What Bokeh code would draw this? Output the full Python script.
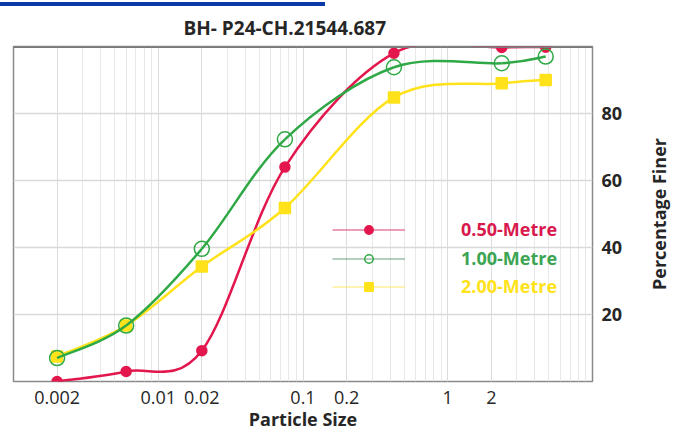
import numpy as np
from bokeh.plotting import figure
from bokeh.models import (FixedTicker, Legend, LegendItem, Span, ColumnDataSource, Div)
from bokeh.layouts import column, row
from bokeh.embed import file_html
from bokeh.resources import INLINE

# ---- data ----
particle_size = [0.002, 0.006, 0.02, 0.075, 0.425, 2.36, 4.75]
finer_050 = [0.0, 3.0, 9.2, 64.0, 98.0, 99.7, 99.8]
finer_100 = [7.0, 16.7, 39.6, 72.3, 93.8, 95.0, 97.0]
finer_200 = [7.5, 16.7, 34.3, 51.8, 84.8, 89.0, 90.0]
series_names = ["0.50-Metre", "1.00-Metre", "2.00-Metre"]
x_ticks = [0.002, 0.01, 0.02, 0.1, 0.2, 1, 2]
x_tick_labels = ["0.002", "0.01", "0.02", "0.1", "0.2", "1", "2"]
y_ticks = [20, 40, 60, 80]
title_text = "BH- P24-CH.21544.687"
y_title = "Percentage Finer"
x_title = "Particle Size"

FONT = "Open Sans"
RED = "#e3174d"
GREEN = "#2fa846"
YELLOW = "#ffe21a"
INK = "#262626"

BAR_H = 6
SIDE_W = 32
H = 433 - BAR_H

p = figure(width=675 - SIDE_W, height=H, x_axis_type="log", x_range=(0.001, 10), y_range=(0, 100),
           y_axis_location="right", output_backend="svg", toolbar_location=None,
           min_border_left=13, min_border_right=83 - SIDE_W, min_border_top=46 - BAR_H,
           min_border_bottom=51, margin=0)

p.title.text = title_text
p.title.align = "left"
p.title.offset = 170
p.title.standoff = 12
p.title.text_font = FONT
p.title.text_font_style = "bold"
p.title.text_font_size = "19px"
p.title.text_color = INK

minor = [k * 10.0 ** d for d in range(-3, 1) for k in range(1, 10)] + [10.0]
p.xaxis.ticker = FixedTicker(ticks=x_ticks, minor_ticks=minor)
p.xaxis.major_label_overrides = {t: l for t, l in zip(x_ticks, x_tick_labels)}
p.yaxis.ticker = FixedTicker(ticks=y_ticks)

for ax in (p.xaxis[0], p.yaxis[0]):
    ax.axis_line_color = None
    ax.major_tick_line_color = None
    ax.minor_tick_line_color = None
    ax.major_label_text_font = FONT
    ax.major_label_text_font_size = "18px"
    ax.major_label_text_color = INK
    ax.axis_label_text_font = FONT
    ax.axis_label_text_font_style = "bold"
    ax.axis_label_text_font_size = "18px"
    ax.axis_label_text_color = INK

p.yaxis.major_label_text_font_style = "bold"
p.xaxis.axis_label = x_title
p.xaxis.major_label_standoff = 3
p.xaxis.axis_label_standoff = 0
p.yaxis.major_label_standoff = 3

p.xgrid.grid_line_color = "#dcdcdc"
p.xgrid.minor_grid_line_color = "#e8e8e8"
p.ygrid.grid_line_color = "#d9d9d9"
p.ygrid.grid_line_width = 1.5

p.outline_line_color = "#8a8a8a"
p.outline_line_width = 1.5
p.add_layout(Span(location=100, dimension="width", line_color="#7a7a7a", line_width=3))


def smooth_segments(xs, ys):
    u = np.log10(np.asarray(xs, dtype=float))
    v = np.asarray(ys, dtype=float)
    n = len(u)
    x0, y0, x1, y1, cx0, cy0, cx1, cy1 = ([] for _ in range(8))
    for i in range(n - 1):
        im = max(i - 1, 0)
        ip = min(i + 2, n - 1)
        c0u = u[i] + (u[i + 1] - u[im]) / 6.0
        c0v = v[i] + (v[i + 1] - v[im]) / 6.0
        c1u = u[i + 1] - (u[ip] - u[i]) / 6.0
        c1v = v[i + 1] - (v[ip] - v[i]) / 6.0
        x0.append(10 ** u[i]); y0.append(v[i])
        x1.append(10 ** u[i + 1]); y1.append(v[i + 1])
        cx0.append(10 ** c0u); cy0.append(c0v)
        cx1.append(10 ** c1u); cy1.append(c1v)
    return dict(x0=x0, y0=y0, x1=x1, y1=y1, cx0=cx0, cy0=cy0, cx1=cx1, cy1=cy1)


specs = [
    (finer_050, RED, "circle", 10, RED, RED, "#d8416a", "#d8194e"),
    (finer_200, YELLOW, "square", 11, YELLOW, YELLOW, "#ffe866", "#ffe21a"),
    (finer_100, GREEN, "circle", 15, None, GREEN, "#6a9f78", "#3ba553"),
]

for vals, col, mk, sz, fill, lc, _, _ in specs:
    seg = ColumnDataSource(smooth_segments(particle_size, vals))
    p.bezier(x0="x0", y0="y0", x1="x1", y1="y1", cx0="cx0", cy0="cy0", cx1="cx1", cy1="cy1",
             source=seg, line_color=col, line_width=2.5)
    p.scatter(particle_size, vals, marker=mk, size=sz, fill_color=fill, line_color=lc,
              line_width=1.5)

# legends (one per series so each label gets its own colour); proxies hold no visible data
legend_order = [specs[0], specs[2], specs[1]]
bottoms = [140, 111, 83]
for (vals, col, mk, sz, fill, lc, leg_line, txt), name, b in zip(legend_order, series_names, bottoms):
    lr = p.line([np.nan], [np.nan], line_color=leg_line, line_width=1)
    sr = p.scatter([np.nan], [np.nan], marker=mk, size=sz, fill_color=fill, line_color=lc,
                   line_width=1.5)
    lg = Legend(items=[LegendItem(label=name, renderers=[lr, sr])], location=(319, b),
                glyph_width=73, glyph_height=21, label_height=21, label_standoff=56,
                padding=0, margin=0, border_line_color=None, background_fill_alpha=0,
                label_text_font=FONT, label_text_font_style="bold", label_text_font_size="18px",
                label_text_color=txt)
    p.add_layout(lg, "center")

# narrow side strip carrying the y-axis title (a left axis label reads bottom-to-top)
p2 = figure(width=SIDE_W, height=H, x_range=(0, 1), y_range=(0, 1),
            output_backend="svg", toolbar_location=None,
            min_border_left=0, min_border_right=0, min_border_top=46 - BAR_H,
            min_border_bottom=51, margin=0)
p2.outline_line_color = None
p2.background_fill_alpha = 0
p2.grid.visible = False
p2.xaxis.visible = False
p2.yaxis.ticker = FixedTicker(ticks=[0.5])
p2.yaxis.major_label_overrides = {0.5: ""}
p2.yaxis.axis_line_color = None
p2.yaxis.major_tick_line_color = None
p2.yaxis.minor_tick_line_color = None
p2.yaxis.major_tick_out = 0
p2.yaxis.major_tick_in = 0
p2.yaxis.minor_tick_out = 0
p2.yaxis.major_label_text_font_size = "1px"
p2.yaxis.major_label_standoff = 0
p2.yaxis.axis_label = y_title
p2.yaxis.axis_label_standoff = 0
p2.yaxis.axis_label_text_font = FONT
p2.yaxis.axis_label_text_font_style = "bold"
p2.yaxis.axis_label_text_font_size = "18px"
p2.yaxis.axis_label_text_color = INK

# decorative blue bar at the very top of the page
bar = Div(text="", width=325, height=BAR_H, margin=0,
          styles={"background": "linear-gradient(to bottom, #ffffff 0px, #ffffff 2px, #0a3aa8 2px, #0a3aa8 6px)",
                  "padding": "0", "margin": "0"})

layout = column(bar, row(p, p2, spacing=0, margin=0), spacing=0, margin=0)
open("out.html", "w").write(file_html(layout, INLINE))
